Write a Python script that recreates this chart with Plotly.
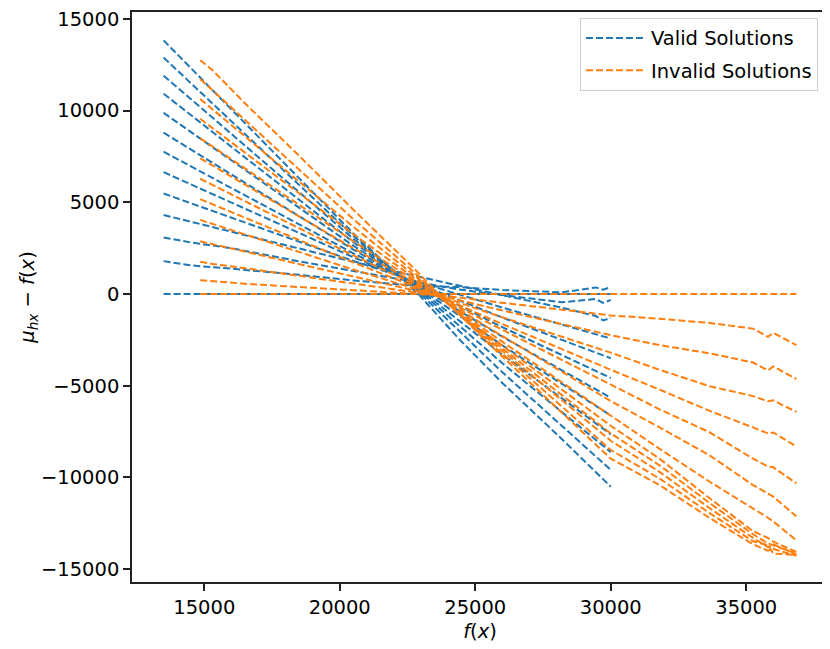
import plotly.graph_objects as go

x_valid = [13500, 14500, 16000, 18500, 20500, 22900, 24400, 26000, 28200, 29450, 29720, 30000]
x_invalid = [14850, 15300, 16500, 18500, 20500, 22600, 23800, 25500, 27500, 30000,
             31800, 33650, 35250, 35800, 36000, 36850]

# mu_hx - f(x), valid solutions (one list per curve)
v00 = [0, 0, 0, 0, 0, 0, 0, 0, 0, 0, 0, 0]
v01 = [1794, 1560, 1380, 1050, 740, 430, 380, 220, 90, 360, 232, 377]
v02 = [3087, 2810, 2500, 1780, 1250, 620, 250, -60, -448, -270, -485, -323]
v03 = [4310, 3950, 3397, 2484, 1753, 950, 457, -67, -745, -1200, -1440, -1300]
v04 = [5478, 4953, 4166, 2854, 1804, 650, -24, -740, -1667, -2194, -2307, -2425]
v05 = [6645, 5982, 4989, 3332, 2007, 550, -338, -1282, -2503, -3197, -3346, -3502]
v06 = [7759, 6968, 5781, 3803, 2220, 480, -629, -1808, -3332, -4199, -4386, -4580]
v07 = [8800, 7889, 6523, 4245, 2424, 420, -912, -2327, -4158, -5199, -5424, -5657]
v08 = [9877, 8843, 7291, 4705, 2636, 360, -1172, -2799, -4904, -6101, -6359, -6627]
v09 = [10921, 9765, 8033, 5143, 2832, 290, -1451, -3300, -5693, -7053, -7346, -7651]
v10 = [11907, 10637, 8732, 5555, 3014, 220, -1718, -3777, -6441, -7955, -8281, -8621]
v11 = [12894, 11505, 9423, 5951, 3174, 120, -2008, -4270, -7195, -8859, -9217, -9590]
v12 = [13831, 12328, 10073, 6314, 3307, 0, -2450, -4850, -7915, -9715, -10103, -10506]

# mu_hx - f(x), invalid solutions
i00 = [0, 0, 0, 0, 0, 0, 0, 0, 0, 0, 0, 0, 0, 0, 0, 0]
i01 = [754, 700, 560, 380, 220, 40, -80, -391, -736, -1167, -1347, -1580, -1886, -2335, -2119, -2785]
i02 = [1760, 1640, 1410, 985, 560, 135, -120, -727, -1402, -2245, -2785, -3233, -3735, -4166, -3950, -4634]
i03 = [2873, 2719, 2308, 1622, 937, 251, -160, -1028, -1993, -3198, -4131, -5027, -5566, -5850, -5800, -6428]
i04 = [4041, 3826, 3250, 2292, 1334, 375, -200, -1323, -2571, -4131, -5210, -6374, -7274, -7600, -7550, -8314]
i05 = [5172, 4898, 4165, 2944, 1723, 502, -230, -1576, -3071, -4940, -6286, -7543, -8981, -9400, -9450, -10328]
i06 = [6286, 5953, 5066, 3586, 2107, 628, -260, -1853, -3624, -5837, -7274, -8800, -10416, -10900, -11050, -12123]
i07 = [7398, 7008, 5967, 4232, 2496, 761, -280, -2098, -4119, -6645, -8441, -10238, -11676, -12200, -12400, -13432]
i08 = [8495, 8048, 6856, 4868, 2880, 893, -300, -2267, -4452, -7184, -8981, -11136, -12931, -13300, -13500, -14063]
i09 = [9554, 9053, 7717, 5490, 3263, 1036, -300, -2386, -4703, -7600, -9340, -11400, -13100, -13600, -13700, -14153]
i10 = [10631, 10077, 8597, 6131, 3665, 1200, -280, -2486, -4937, -8000, -9700, -11680, -13300, -13800, -13650, -14190]
i11 = [11729, 11120, 9496, 6789, 4082, 1374, -250, -2607, -5226, -8500, -10060, -11950, -13480, -13700, -14150, -14225]
i12 = [12753, 12215, 10400, 7540, 4600, 1600, -200, -2709, -5497, -8981, -10416, -12214, -13648, -14000, -13900, -14280]

valid_curves = [v00, v01, v02, v03, v04, v05, v06, v07, v08, v09, v10, v11, v12]
invalid_curves = [i00, i01, i02, i03, i04, i05, i06, i07, i08, i09, i10, i11, i12]

x_ticks = [15000, 20000, 25000, 30000, 35000]
x_tick_labels = ['15000', '20000', '25000', '30000', '35000']
y_ticks = [-15000, -10000, -5000, 0, 5000, 10000, 15000]
y_tick_labels = ['\u221215000', '\u221210000', '\u22125000', '0', '5000', '10000', '15000']

blue = '#1f77b4'
orange = '#ff7f0e'
dash = '7px,3px'
fnt = dict(family='DejaVu Sans', size=19.5, color='black')

fig = go.Figure()
# Valid solutions first, invalid drawn on top
for n, y in enumerate(valid_curves):
    fig.add_trace(go.Scatter(x=x_valid, y=y, mode='lines',
                             line=dict(color=blue, width=2, dash=dash),
                             name='Valid Solutions', legendgroup='valid',
                             showlegend=(n == 0)))
for n, y in enumerate(invalid_curves):
    fig.add_trace(go.Scatter(x=x_invalid, y=y, mode='lines',
                             line=dict(color=orange, width=2, dash=dash),
                             name='Invalid Solutions', legendgroup='invalid',
                             showlegend=(n == 0)))

axis_style = dict(showgrid=False, zeroline=False, showline=True, mirror=True,
                  linecolor='#222222', linewidth=1.6, ticks='outside', ticklen=7,
                  tickwidth=1.6, tickcolor='#222222', tickfont=fnt,
                  ticklabeloverflow='allow')

fig.update_xaxes(range=[12333, 38017], tickvals=x_ticks, ticktext=x_tick_labels,
                 title=dict(text='<i>f</i>(<i>x</i>)', standoff=6, font=fnt),
                 **axis_style)
fig.update_yaxes(range=[-15704, 15379], tickvals=y_ticks, ticktext=y_tick_labels,
                 title=dict(text='<i>\u03bc<sub>hx</sub></i> \u2212 <i>f</i>(<i>x</i>)',
                            standoff=1, font=fnt),
                 **axis_style)

# page body adds an 8px offset, so the figure is sized and padded for that
fig.update_layout(
    width=822, height=641,
    margin=dict(l=124, r=2, t=0, b=67),
    plot_bgcolor='white', paper_bgcolor='white',
    font=fnt,
    legend=dict(x=0.9856, y=0.99, xanchor='right', yanchor='top',
                bgcolor='rgba(255,255,255,0.8)', bordercolor='#cccccc', borderwidth=1,
                traceorder='grouped', tracegroupgap=4, itemwidth=60, font=fnt),
)

fig.write_html('out.html')
